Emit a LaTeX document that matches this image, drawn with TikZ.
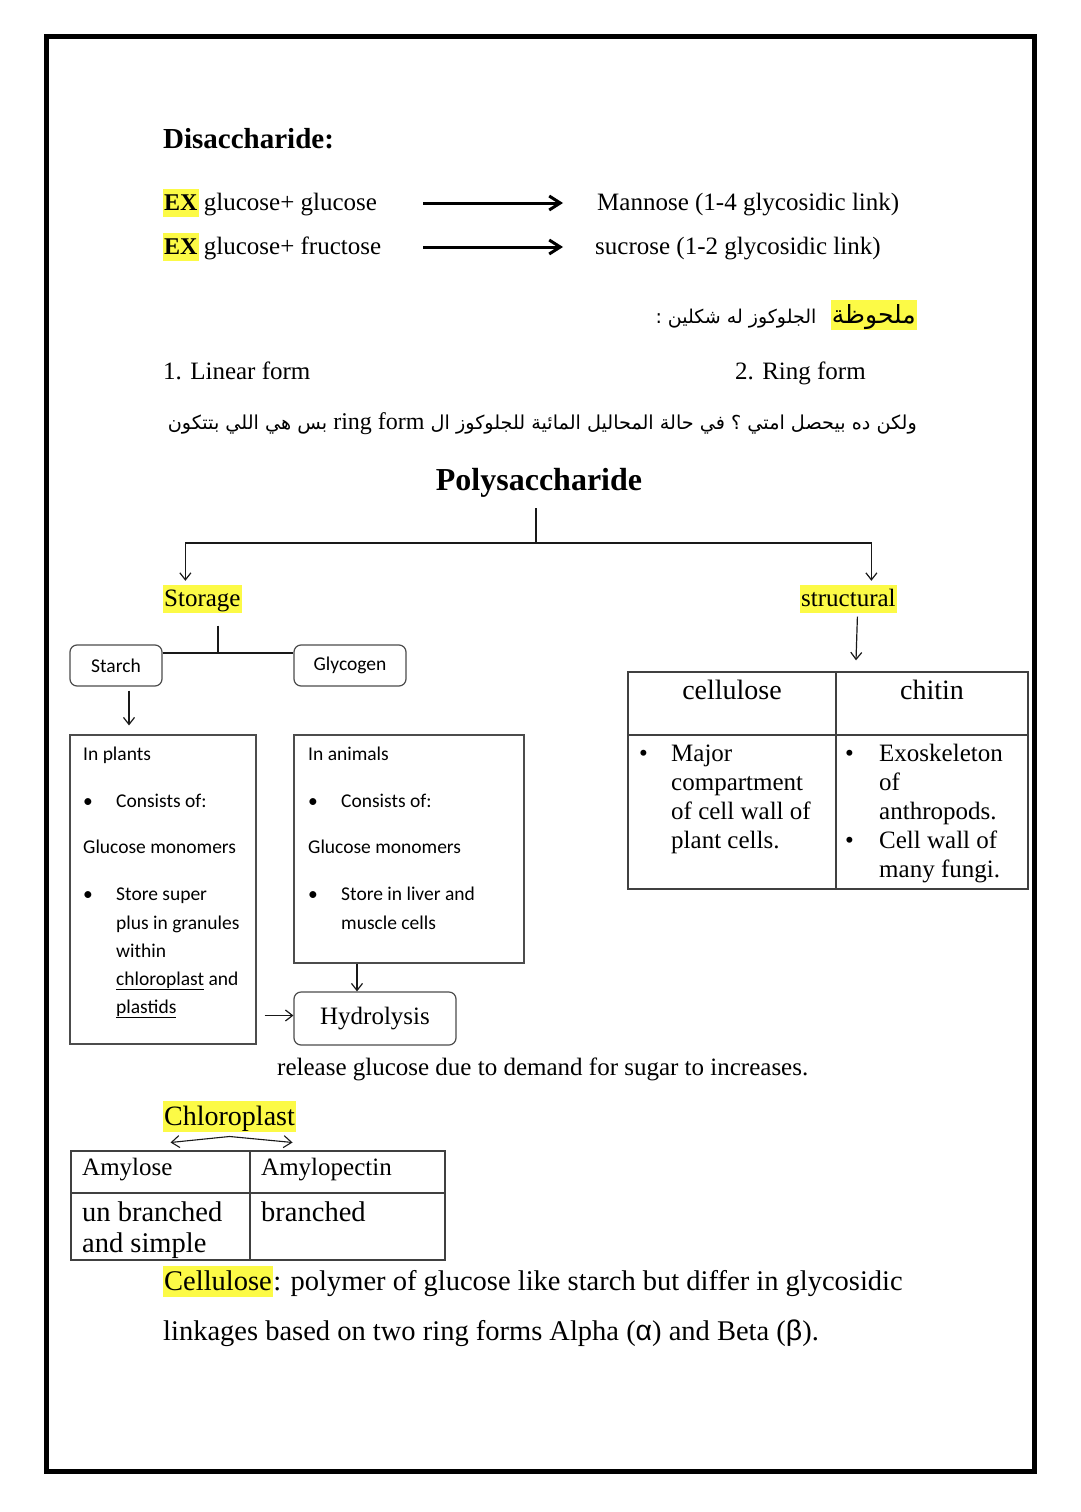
\documentclass[tikz,border=0pt]{standalone}
\usepackage{fontspec}
\setmainfont{Liberation Serif}
\newfontfamily\calibri{Carlito}
\newfontfamily\greekfont{Liberation Sans}
\newfontfamily\arabicfont[Script=Arabic]{DejaVu Sans}
\TeXXeTstate=1
\usepackage{xcolor}
\definecolor{hlyellow}{RGB}{252,250,70}
\usetikzlibrary{arrows.meta,positioning}

\begin{document}
\begin{tikzpicture}[x=1pt,y=-1pt,>={Straight Barb[length=7pt,width=11pt]},
  every node/.style={inner sep=0pt},
  txt/.style={anchor=base west,font=\fontsize{25}{30}\selectfont},
  bigtxt/.style={anchor=base west,font=\fontsize{28.5}{34}\selectfont},
  headtxt/.style={anchor=base,font=\fontsize{28}{33}\selectfont},
  sanstxt/.style={anchor=base west,font=\calibri\fontsize{19.5}{23}\selectfont},
  hl/.style={fill=hlyellow,inner xsep=1pt,text height={0.84*#1pt},text depth={0.26*#1pt}},
  hl/.default=25,
  box/.style={draw=black!70,line width=1.2pt},
  rbox/.style={box,rounded corners=7pt},
  link/.style={draw=black!90,line width=1.2pt},
  bigarrow/.style={-{Straight Barb[length=11pt,width=14pt]},line width=3pt},
  tabline/.style={draw=black!75,line width=1.4pt}]
\useasboundingbox (0,0) rectangle (1080,1512);
\fill[white] (0,0) rectangle (1080,1512);
\draw[line width=5pt] (46,37) rectangle (1034,1471);

% disaccharides
\node[anchor=base west,font=\bfseries\fontsize{29}{34}\selectfont] (disacc) at (163,148) {Disaccharide:};
\node[txt,hl,font=\bfseries\fontsize{24}{30}\selectfont] (exA) at (163,210) {EX};
\node[txt] (pairA) at ([xshift=5pt]exA.base east) {glucose+ glucose};
\node[txt] (mannose) at (597,210) {Mannose (1-4 glycosidic link)};
\node[txt,hl,font=\bfseries\fontsize{24}{30}\selectfont] (exB) at (163,254) {EX};
\node[txt] (pairB) at ([xshift=5pt]exB.base east) {glucose+ fructose};
\node[txt] (sucrose) at (595,254) {sucrose (1-2 glycosidic link)};
\draw[bigarrow] ([yshift=7pt]pairA.base east -| 423,0) -- ([xshift=-34pt,yshift=7pt]mannose.base west);
\draw[bigarrow] ([yshift=7pt]pairB.base east -| 423,0) -- ([xshift=-32pt,yshift=7pt]sucrose.base west);

% note on glucose forms
\node[anchor=base east,hl=27,font=\arabicfont\fontsize{25}{30}\selectfont] (note) at (917,323) {\beginR ملحوظة\endR};
\node[anchor=base east,font=\arabicfont\fontsize{19}{24}\selectfont] (notetxt) at ([xshift=-14pt]note.base west) {\beginR الجلوكوز له شكلين :\endR};
\node[txt] (linear) at (163,379) {1. Linear form};
\node[txt] (ring) at (735,379) {2. Ring form};
\node[anchor=base east,font=\arabicfont\fontsize{19.2}{24}\selectfont] (question) at (917,429)
  {\beginR ولكن ده بيحصل امتي ؟ في حالة المحاليل المائية للجلوكوز ال \beginL{\rmfamily\fontsize{24}{28}\selectfont ring form}\endL{} بس هي اللي بتتكون\endR};

% polysaccharide tree
\node[anchor=base,font=\bfseries\fontsize{32}{38}\selectfont] (poly) at (539,490) {Polysaccharide};
\node[txt,hl] (storage) at (163,606) {Storage};
\node[txt,hl] (structural) at (800,606) {structural};
\coordinate (split) at (536,543);
\draw[link] ([yshift=-11pt]split |- poly.south) -- (split);
\draw[link,->] (split) -| ([xshift=-17pt,yshift=4pt]storage.north);
\draw[link,->] (split) -| ([xshift=23pt,yshift=4pt]structural.north);

% storage branch
\node[rbox,minimum width=92pt,minimum height=41pt,font=\calibri\fontsize{19.5}{23}\selectfont] (starch) at (116,665.5) {Starch};
\node[rbox,minimum width=112pt,minimum height=41pt,font=\calibri\fontsize{19.5}{23}\selectfont] (glycogen) at (350,665.5) {Glycogen};
\coordinate (sjoin) at (218,653);
\draw[link] ([yshift=-13pt]storage.south -| sjoin) -- (sjoin);
\draw[link] (starch.east |- sjoin) -- (glycogen.west |- sjoin);

\node[box,minimum width=186pt,minimum height=309pt] (plants) at (163,889.5) {};
\node[box,minimum width=230pt,minimum height=228pt] (animals) at (409,849) {};
\node[rbox,minimum width=162pt,minimum height=53pt,font=\fontsize{25}{30}\selectfont] (hydro) at (375,1018.5) {Hydrolysis};
\draw[link,->] ([xshift=13pt,yshift=-4pt]starch.south) -- ([xshift=-34pt,yshift=9pt]plants.north);
\draw[link,->] ([xshift=-52pt]animals.south) -- ([xshift=-18pt]hydro.north);
\draw[link,->] ([xshift=8pt,yshift=3pt]plants.east |- hydro.west) -- ([yshift=3pt]hydro.west);

% plants box text
\node[sanstxt] (pl1) at (83,760) {In plants};
\node[sanstxt] (pl2) at (83,807) {\textbullet};
\node[sanstxt] (pl3) at (116,807) {Consists of:};
\node[sanstxt] (pl4) at (83,853) {Glucose monomers};
\node[sanstxt] (pl5) at (83,900) {\textbullet};
\node[sanstxt] (pl6) at (116,900) {Store super};
\node[sanstxt] (pl7) at (116,929) {plus in granules};
\node[sanstxt] (pl8) at (116,957) {within};
\node[sanstxt] (pl9) at (116,985) {\underline{chloroplast} and};
\node[sanstxt] (pl10) at (116,1013) {\underline{plastids}};

% animals box text
\node[sanstxt] (an1) at (308,760) {In animals};
\node[sanstxt] (an2) at (308,807) {\textbullet};
\node[sanstxt] (an3) at (341,807) {Consists of:};
\node[sanstxt] (an4) at (308,853) {Glucose monomers};
\node[sanstxt] (an5) at (308,900) {\textbullet};
\node[sanstxt] (an6) at (341,900) {Store in liver and};
\node[sanstxt] (an7) at (341,929) {muscle cells};

\node[txt] (release) at (277,1075) {release glucose due to demand for sugar to increases.};

% structural table
\node[tabline,minimum width=400pt,minimum height=217pt] (celltab) at (828,780.5) {};
\draw[tabline] (836,672) -- (836,889);
\draw[tabline] (628,735) -- (1028,735);
\draw[link,->] ([xshift=9pt,yshift=-4pt]structural.south) -- ([xshift=28pt,yshift=11pt]celltab.north);
\node[headtxt] (cellhead) at (732,699) {cellulose};
\node[headtxt] (chithead) at (932,699) {chitin};
\node[txt] (ce0) at (639,761) {\textbullet};
\node[txt] (ce1) at (671,761) {Major};
\node[txt] (ce2) at (671,790) {compartment};
\node[txt] (ce3) at (671,819) {of cell wall of};
\node[txt] (ce4) at (671,848) {plant cells.};
\node[txt] (ch0) at (845,761) {\textbullet};
\node[txt] (ch1) at (879,761) {Exoskeleton};
\node[txt] (ch2) at (879,790) {of};
\node[txt] (ch3) at (879,819) {anthropods.};
\node[txt] (ch4) at (845,848) {\textbullet};
\node[txt] (ch5) at (879,848) {Cell wall of};
\node[txt] (ch6) at (879,877) {many fungi.};

% starch types
\node[anchor=base west,hl=28,font=\fontsize{28}{33}\selectfont] (chloro) at (163,1125) {Chloroplast};
\draw[link,line width=1.1pt,{Straight Barb[length=8pt,width=12pt]}-{Straight Barb[length=8pt,width=12pt]}] ([xshift=-59pt,yshift=-10pt]chloro.south) -- ([yshift=-4pt]chloro.south) -- ([xshift=63pt,yshift=-10pt]chloro.south);
\node[tabline,minimum width=374pt,minimum height=109pt] (amytab) at (258,1205.5) {};
\draw[tabline] (250,1151) -- (250,1260);
\draw[tabline] (71,1193) -- (445,1193);
\node[txt] (amylose) at (82,1175) {Amylose};
\node[txt] (amylopectin) at (261,1175) {Amylopectin};
\node[bigtxt] (unbr) at (82,1221) {un branched};
\node[bigtxt] (simple) at (82,1252) {and simple};
\node[bigtxt] (branched) at (261,1221) {branched};

% cellulose note
\node[bigtxt,hl=28.5] (cellnote) at (163,1290) {Cellulose};
\node[bigtxt] (cellrest) at (cellnote.base east) {: polymer of glucose like starch but differ in glycosidic};
\node[bigtxt] (linkages) at (163,1340) {linkages based on two ring forms Alpha ({\greekfont α}) and Beta ({\greekfont β}).};
\end{tikzpicture}
\end{document}
